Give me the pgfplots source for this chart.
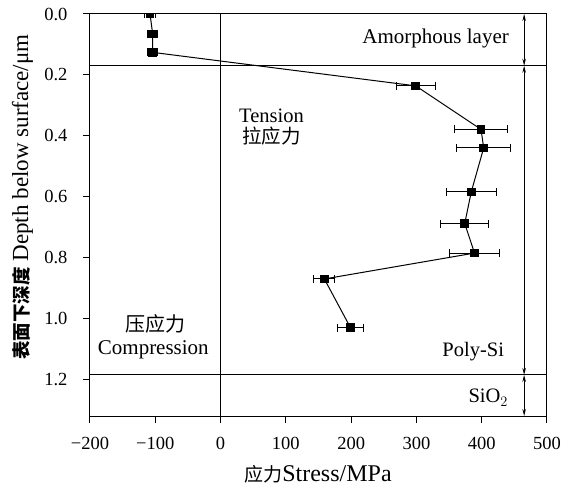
\documentclass[border=0pt]{standalone}
\usepackage{fontspec}
\setmainfont{Liberation Serif}
\newfontfamily\cjk{Noto Sans CJK SC}
\usepackage{pgfplots}
\usepackage{pgfplotstable}
\pgfplotsset{compat=1.18}
\usetikzlibrary{arrows.meta}

\pgfplotstableread{
x y e
-108 0.000 8
-104 0.066 8
-104 0.126 8
299 0.236 30
399 0.379 40
403 0.440 41
384 0.584 38
374 0.688 37
389 0.785 39
159 0.870 16
199 1.030 20
}\stressdata

\begin{document}
\begin{tikzpicture}
\path[use as bounding box] (-90pt,-73pt) rectangle (483pt,416pt);
\begin{axis}[
  at={(0,0)}, anchor=south west,
  scale only axis,
  width=457pt, height=402pt,
  xmin=-200, xmax=500,
  ymin=0, ymax=1.32,
  y dir=reverse,
  clip marker paths=true,
  axis line style={line width=1pt},
  xtick={-200,-100,0,100,200,300,400,500},
  xticklabels={−200,−100,0,100,200,300,400,500},
  ytick={0,0.2,0.4,0.6,0.8,1.0,1.2},
  yticklabels={0.0,0.2,0.4,0.6,0.8,1.0,1.2},
  xtick pos=bottom, ytick pos=left,
  tick align=outside,
  major tick length=7pt,
  tick style={line width=1pt, black},
  ticklabel style={font=\fontsize{18.5}{21}\selectfont},
  xticklabel style={anchor=base, yshift=-26pt},
  yticklabel style={anchor=east, xshift=-12pt},
]
\draw[line width=1pt] (axis cs:-200,0.17) -- (axis cs:500,0.17);
\draw[line width=1pt] (axis cs:-200,1.185) -- (axis cs:500,1.185);
\draw[line width=1pt] (axis cs:0,0) -- (axis cs:0,1.32);
\draw[line width=1pt, {Stealth[length=7pt,width=3.5pt]}-{Stealth[length=7pt,width=3.5pt]}] (axis cs:465,0) -- (axis cs:465,0.17);
\draw[line width=1pt, {Stealth[length=7pt,width=3.5pt]}-{Stealth[length=7pt,width=3.5pt]}] (axis cs:465,0.17) -- (axis cs:465,1.185);
\draw[line width=1pt, {Stealth[length=7pt,width=3.5pt]}-{Stealth[length=7pt,width=3.5pt]}] (axis cs:465,1.185) -- (axis cs:465,1.32);
\addplot[black, line width=1pt, mark=square*, mark size=3.8pt, mark options={solid, fill=black},
  error bars/.cd, x dir=both, x explicit,
  error bar style={line width=1pt},
  error mark options={rotate=90, mark size=4pt, line width=1pt}]
  table[x=x, y=y, x error=e] {\stressdata};
\node[anchor=base east, font=\fontsize{21}{24}\selectfont] at (axis cs:447,0.097) {Amorphous layer};
\node[anchor=base, font=\fontsize{20.5}{24}\selectfont] at (axis cs:78,0.356) {Tension};
\node[font=\fontsize{19.5}{24}\selectfont\cjk] at (axis cs:78,0.40) {拉应力};
\node[font=\fontsize{20}{24}\selectfont\cjk] at (axis cs:-100,1.016) {压应力};
\node[anchor=base, font=\fontsize{21}{24}\selectfont] at (axis cs:-103,1.117) {Compression};
\node[anchor=base, font=\fontsize{20.5}{24}\selectfont] at (axis cs:387,1.124) {Poly-Si};
\node[anchor=base, font=\fontsize{20.5}{24}\selectfont] at (axis cs:410,1.277) {SiO$_2$};
\end{axis}
\node[rotate=90, anchor=center] at (-67.5pt,219pt) {{\fontsize{18.5}{22}\selectfont\cjk\bfseries 表面下深度}\fontsize{23}{26}\selectfont\ Depth below surface/μm};
\node[anchor=base] at (228pt,-65.7pt) {{\fontsize{19}{22}\selectfont\cjk 应力}\fontsize{24}{27}\selectfont Stress/MPa};
\end{tikzpicture}
\end{document}
